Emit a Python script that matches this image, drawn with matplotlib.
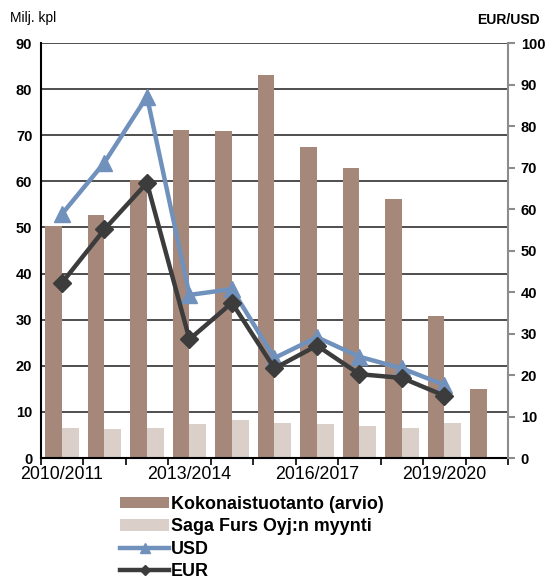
import matplotlib
matplotlib.use('Agg')
import matplotlib.pyplot as plt
import numpy as np

plt.rcParams['font.family'] = ['Liberation Sans', 'DejaVu Sans']

# %% Dane
kaudet = ['2010/2011', '2011/2012', '2012/2013', '2013/2014', '2014/2015', '2015/2016',
          '2016/2017', '2017/2018', '2018/2019', '2019/2020', '2020/2021']
kokonais = [50.3, 52.8, 60.4, 71.2, 70.9, 83.1, 67.4, 63.0, 56.1, 30.9, 14.9]
saga = [6.4, 6.2, 6.4, 7.4, 8.3, 7.6, 7.4, 6.9, 6.5, 7.5, np.nan]
usd = [58.8, 71.2, 87.1, 39.3, 40.7, 24.1, 29.1, 24.4, 21.6, 17.6, np.nan]
eur = [42.2, 55.1, 66.3, 28.6, 37.4, 21.6, 27.1, 20.2, 19.3, 15.0, np.nan]

c_tumma = '#A5887A'
c_vaalea = '#DACFC9'
c_usd = '#7191BD'
c_eur = '#3C3C3C'

x = np.arange(len(kaudet))
w = 0.39

fig = plt.figure(figsize=(5.5, 5.83), dpi=100)
ax = fig.add_axes([0.074, 0.2144, 0.85, 0.7118])

b1 = ax.bar(x - w / 2, kokonais, w, color=c_tumma, label='Kokonaistuotanto (arvio)', zorder=2)
b2 = ax.bar(x + w / 2, saga, w, color=c_vaalea, label='Saga Furs Oyj:n myynti', zorder=2)

ax.set_xlim(-0.5, 10.5)
ax.set_ylim(0, 90)
ax.set_yticks(np.arange(0, 91, 10))
ax.set_axisbelow(True)
ax.yaxis.grid(True, color='#303030', linewidth=1.2)
ax.tick_params(axis='y', length=0, labelsize=10.5, pad=6)
for t in ax.get_yticklabels():
    t.set_fontweight('bold')

ax.set_xticks(x[::3])
ax.set_xticklabels(kaudet[::3], fontsize=12.8)
ax.set_xticks(np.arange(-0.5, 11, 1), minor=True)
ax.tick_params(axis='x', which='major', length=0, pad=6)
ax.tick_params(axis='x', which='minor', length=5, width=1.2, color='black', direction='out')

ax.spines['top'].set_visible(False)
ax.spines['right'].set_visible(False)
ax.spines['left'].set_linewidth(1.5)
ax.spines['bottom'].set_linewidth(1.5)

ax2 = ax.twinx()
ax2.set_ylim(0, 100)
ax2.set_yticks(np.arange(0, 101, 10))
l1, = ax2.plot(x, usd, color=c_usd, linewidth=3.2, marker='^', markersize=11, label='USD')
l2, = ax2.plot(x, eur, color=c_eur, linewidth=3.2, marker='D', markersize=9, label='EUR')
ax2.tick_params(axis='y', length=5, width=1.5, color='#8C8C8C', labelsize=10.5, pad=4)
for t in ax2.get_yticklabels():
    t.set_fontweight('bold')
for s in ['top', 'left', 'bottom']:
    ax2.spines[s].set_visible(False)
ax2.spines['right'].set_color('#8C8C8C')
ax2.spines['right'].set_linewidth(1.5)

fig.text(10 / 550, 1 - 18 / 583, 'Milj. kpl', fontsize=10, va='center', ha='left')
fig.text(540 / 550, 1 - 20 / 583, 'EUR/USD', fontsize=10, fontweight='bold', va='center', ha='right')

fig.legend(handles=[b1, b2, l1, l2], loc='upper left',
           bbox_to_anchor=(120 / 550, 1 - 496 / 583), frameon=False,
           prop={'weight': 'bold', 'size': 12.9}, handlelength=2.74, handleheight=0.6,
           handletextpad=0.1, labelspacing=0.3, borderpad=0, borderaxespad=0,
           markerscale=0.6)

plt.savefig('out.png', dpi=100)
